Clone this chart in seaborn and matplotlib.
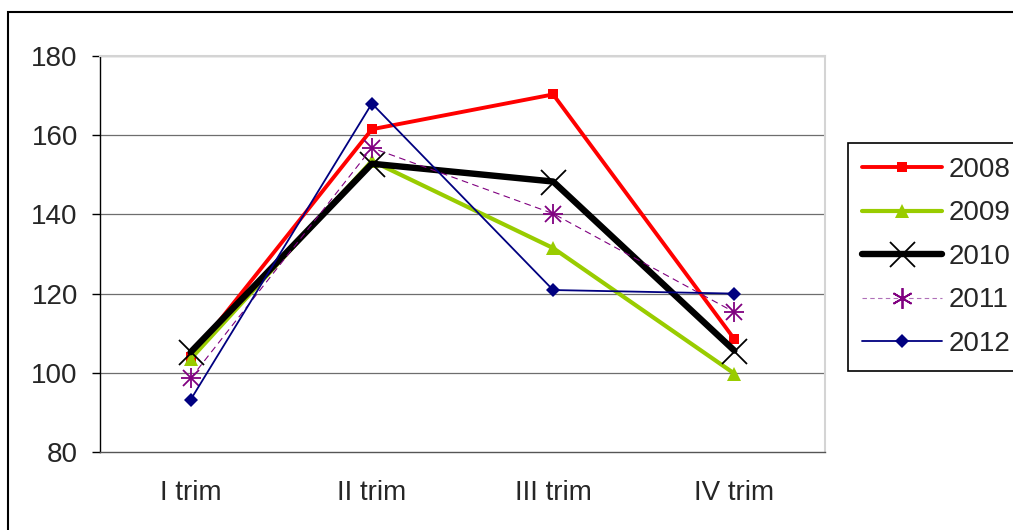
import matplotlib
matplotlib.use("Agg")
import matplotlib.pyplot as plt
import seaborn as sns
import pandas as pd
from matplotlib.patches import Rectangle
from matplotlib.lines import Line2D
from matplotlib.ticker import FixedLocator

sns.set_theme(style="white")
plt.rcParams["font.family"] = ["Liberation Sans", "DejaVu Sans"]

# Quarterly index values by year
quarters = ["I trim", "II trim", "III trim", "IV trim"]
years = ["2008", "2009", "2010", "2011", "2012"]
v2008 = [104, 161.5, 170.3, 108.5]
v2009 = [103.5, 153.5, 131.5, 99.8]
v2010 = [105.2, 152.8, 148.3, 105.6]
v2011 = [98.6, 156.8, 140.2, 115.3]
v2012 = [93.2, 168.0, 120.9, 120.0]
values = [v2008, v2009, v2010, v2011, v2012]

y_ticks = [80, 100, 120, 140, 160, 180]

rows = []
for yr, vals in zip(years, values):
    for i, (q, v) in enumerate(zip(quarters, vals)):
        rows.append({"year": yr, "pos": i, "quarter": q, "value": v})
df = pd.DataFrame(rows)

styles = {
    "2008": dict(color="#ff0000", lw=2.8, marker="s", ms=7.5, ls="-", mew=0),
    "2009": dict(color="#99cc00", lw=3.0, marker="^", ms=9.5, ls="-", mew=0),
    "2010": dict(color="#000000", lw=4.6, marker="x", ms=18, ls="-", mew=1.3),
    "2011": dict(color="#800080", lw=0.8, marker="*", ms=0, ls=(0, (6, 4)), mew=1.0),
    "2012": dict(color="#000080", lw=1.3, marker="D", ms=7, ls="-", mew=0),
}

fig = plt.figure(figsize=(10.13, 5.30), dpi=100)
fig.patch.set_facecolor("white")
ax = fig.add_axes([100 / 1013, 1 - 452 / 530, 725 / 1013, 396 / 530])

for yr in years:
    st = styles[yr]
    sub = df[df["year"] == yr]
    sns.lineplot(data=sub, x="pos", y="value", ax=ax, color=st["color"],
                 linewidth=st["lw"], linestyle=st["ls"], label=yr,
                 marker=st["marker"] if yr != "2011" else None,
                 markersize=st["ms"], markeredgewidth=st["mew"],
                 markeredgecolor=st["color"], sort=False, errorbar=None)
    if yr == "2011":
        # asterisk marker drawn from plus and cross strokes
        for m in ["+", "x"]:
            ax.plot(sub["pos"], sub["value"], ls="none", marker=m,
                    ms=14 if m == "+" else 11, mew=1.3, color=st["color"])

ax.set_xlim(-0.5, 3.5)
ax.set_ylim(80, 180)
ax.set_yticks(y_ticks)
ax.set_yticklabels([str(t) for t in y_ticks], fontsize=20)
ax.set_xticks(range(len(quarters)))
ax.set_xticklabels(quarters, fontsize=20)
ax.xaxis.set_minor_locator(FixedLocator([-0.5, 0.5, 1.5, 2.5, 3.5]))
ax.tick_params(axis="x", which="major", length=0, pad=20)
ax.tick_params(axis="x", which="minor", length=6, width=1, color="black", direction="out")
ax.tick_params(axis="y", length=6, width=1, color="black", direction="out", pad=10, left=True)
ax.set_xlabel("")
ax.set_ylabel("")

for t in y_ticks[1:]:
    ax.axhline(t, color="#6e6e6e", lw=0.9, zorder=0)

for side in ["top", "right"]:
    ax.spines[side].set_color("#d4d4d4")
    ax.spines[side].set_linewidth(1.5)
ax.spines["left"].set_color("black")
ax.spines["left"].set_linewidth(1)
ax.spines["bottom"].set_color("#555555")
ax.spines["bottom"].set_linewidth(1)

# Legend with proxy handles
handles = []
for yr in years:
    st = styles[yr]
    if yr == "2011":
        h = Line2D([], [], color="#b070b8", lw=st["lw"], ls=(0, (4, 3)),
                   marker=(6, 2, 0), ms=15, mew=1.3, mec=st["color"])
    else:
        h = Line2D([], [], color=st["color"], lw=st["lw"], ls=st["ls"],
                   marker=st["marker"], ms=st["ms"], mew=st["mew"], mec=st["color"])
    handles.append(h)
if ax.get_legend() is not None:
    ax.get_legend().remove()
leg = fig.legend(handles, years, loc="upper left",
                 bbox_to_anchor=(848 / 1013, 1 - 143 / 530), fontsize=20,
                 frameon=True, fancybox=False, edgecolor="black", framealpha=1,
                 handlelength=2.9, handletextpad=0.22, labelspacing=0.63,
                 borderpad=0.5, borderaxespad=0)
leg.get_frame().set_linewidth(1.2)

# Outer chart frame
fig.patches.append(Rectangle((8 / 1013, -0.05), 1.1, 1 - 12 / 530 + 0.05,
                             transform=fig.transFigure, fill=False,
                             edgecolor="black", lw=1.5, clip_on=False))

fig.savefig("out.png", dpi=100, facecolor="white")
